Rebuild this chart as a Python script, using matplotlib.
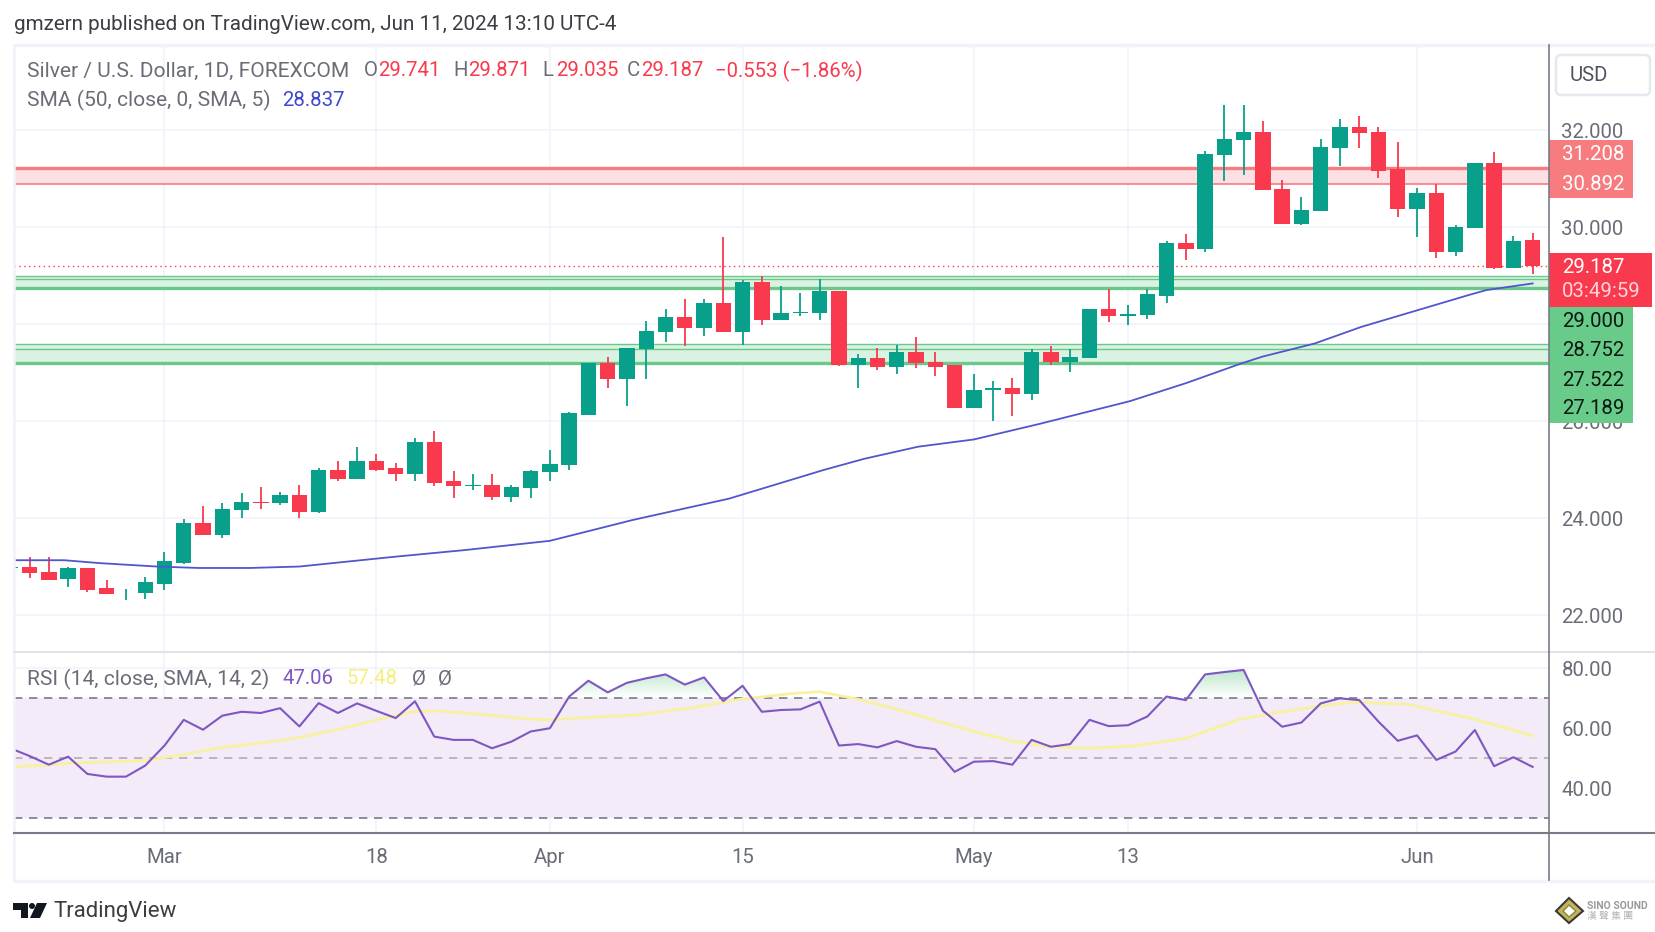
import matplotlib
matplotlib.use('Agg')
import matplotlib.pyplot as plt
from matplotlib.patches import Rectangle, Polygon, Circle, FancyBboxPatch
from matplotlib.path import Path
import numpy as np

W, H = 1656, 932
plt.rcParams['font.family'] = ['Roboto', 'Noto Sans CJK TC', 'DejaVu Sans']

GREEN = '#08a08a'
RED = '#f93a4e'
GRID = '#f0f3fa'
AXIS = '#787b86'
TXT = '#6a6d78'

# Daily candles, first one is the clipped stub on the left edge
opens = [22.98, 22.99, 22.89, 22.74, 22.96, 22.55, 22.45, 22.45, 22.65, 23.08, 23.90, 23.66, 24.16, 24.33, 24.30,
         24.47, 24.12, 25.00, 24.80, 25.18, 25.04, 24.91, 25.57, 24.76, 24.67, 24.69, 24.44, 24.62, 24.94, 25.09,
         26.12, 27.19, 26.87, 27.48, 27.84, 28.15, 27.91, 28.44, 27.84, 28.86, 28.08, 28.23, 28.22, 28.69, 27.15,
         27.29, 27.12, 27.43, 27.22, 27.15, 26.26, 26.65, 26.68, 26.55, 27.43, 27.22, 27.29, 28.32, 28.16, 28.19,
         28.58, 29.68, 29.55, 31.48, 31.80, 31.96, 30.79, 30.07, 30.34, 31.62, 32.07, 31.96, 31.19, 30.37, 30.71,
         29.48, 29.99, 31.33, 29.15, 29.741]
highs = [23.00, 23.19, 23.19, 22.99, 22.97, 22.72, 22.53, 22.79, 23.29, 23.97, 24.25, 24.32, 24.51, 24.65, 24.54,
         24.68, 25.04, 25.18, 25.47, 25.33, 25.14, 25.65, 25.79, 24.97, 24.90, 24.90, 24.68, 25.00, 25.40, 26.19,
         27.19, 27.33, 27.50, 28.07, 28.32, 28.51, 28.51, 29.79, 28.91, 28.99, 28.79, 28.65, 28.92, 28.69, 27.39,
         27.50, 27.57, 27.73, 27.43, 27.15, 26.97, 26.83, 26.89, 27.49, 27.55, 27.48, 28.32, 28.73, 28.39, 28.73,
         29.71, 29.85, 31.57, 32.51, 32.51, 32.18, 30.97, 30.61, 31.82, 32.22, 32.29, 32.07, 31.76, 30.80, 30.88,
         30.04, 31.33, 31.54, 29.82, 29.871]
lows = [22.97, 22.77, 22.72, 22.58, 22.48, 22.44, 22.30, 22.34, 22.52, 23.05, 23.66, 23.58, 24.01, 24.19, 24.26,
        24.01, 24.10, 24.76, 24.80, 24.97, 24.76, 24.76, 24.66, 24.41, 24.58, 24.37, 24.34, 24.41, 24.76, 24.99,
        26.12, 26.69, 26.30, 26.87, 27.62, 27.55, 27.76, 27.84, 27.57, 27.98, 28.08, 28.16, 28.08, 27.13, 26.69,
        27.05, 26.97, 27.09, 26.93, 26.26, 26.26, 26.01, 26.11, 26.43, 27.15, 27.01, 27.29, 28.05, 27.98, 28.10,
        28.44, 29.33, 29.48, 30.95, 31.08, 30.76, 30.07, 30.05, 30.34, 31.26, 31.62, 31.01, 30.20, 29.80, 29.37,
        29.41, 29.99, 29.13, 29.15, 29.035]
closes = [23.00, 22.86, 22.72, 22.96, 22.52, 22.44, 22.46, 22.68, 23.11, 23.90, 23.66, 24.19, 24.33, 24.31, 24.47,
          24.12, 25.00, 24.80, 25.18, 25.00, 24.90, 25.57, 24.73, 24.66, 24.69, 24.44, 24.65, 24.97, 25.11, 26.16,
          27.19, 26.87, 27.50, 27.86, 28.15, 27.91, 28.44, 27.84, 28.86, 28.08, 28.22, 28.25, 28.69, 27.15, 27.29,
          27.12, 27.43, 27.19, 27.12, 26.26, 26.64, 26.68, 26.55, 27.43, 27.22, 27.33, 28.32, 28.16, 28.21, 28.61,
          29.68, 29.55, 31.50, 31.82, 31.96, 30.76, 30.07, 30.36, 31.64, 32.07, 31.94, 31.16, 30.37, 30.71, 29.48,
          30.00, 31.33, 29.15, 29.72, 29.187]
days = np.arange(len(opens)) - 1

# SMA 50
sma_days = [-0.83, 1.8, 3.65, 6.6, 8.8, 11.4, 14, 18.9, 22.6, 27, 31.3, 36.3, 41.2, 43.3, 46.1, 49, 52.4, 55.5,
            57.1, 60, 62.9, 64, 66.7, 69.1, 71.9, 74.7, 75.6, 78]
sma_vals = [23.13, 23.13, 23.07, 23.0, 22.97, 22.97, 23.0, 23.2, 23.34, 23.53, 23.96, 24.40, 24.99, 25.22, 25.47,
            25.62, 25.94, 26.25, 26.41, 26.78, 27.19, 27.33, 27.6, 27.94, 28.27, 28.6, 28.7, 28.837]

rsi = [53.3, 50.7, 47.8, 50.5, 44.7, 43.8, 43.8, 47.5, 54.2, 62.8, 59.5, 64.2, 65.5, 65.1, 66.7, 60.6, 68.4, 65.1,
       68.3, 65.8, 63.4, 69.0, 57.2, 56.1, 56.1, 53.3, 55.5, 58.9, 60.0, 70.6, 75.9, 72.0, 75.2, 76.7, 78.0, 74.6,
       77.0, 69.1, 74.2, 65.5, 66.1, 66.3, 68.9, 54.2, 54.7, 53.6, 55.7, 53.8, 53.0, 45.4, 48.8, 49.0, 47.8, 56.1,
       53.8, 54.7, 62.8, 60.7, 61.0, 63.9, 70.6, 69.4, 78.0, 78.8, 79.5, 65.9, 60.5, 61.9, 68.3, 70.0, 69.4, 62.2,
       55.8, 57.6, 49.4, 52.2, 59.4, 47.3, 50.3, 47.06]

rsi_ma_days = [-0.85, 1, 2, 4, 6, 8.1, 10, 12.2, 14.1, 16.3, 18, 19.9, 21, 23.2, 25.9, 27, 28.7, 31.4, 34.2, 36.9,
               39.7, 41, 43, 45.5, 48.7, 51, 52.9, 55, 57.3, 60, 62.8, 64.7, 67.4, 68.8, 71.5, 74.8, 78]
rsi_ma_vals = [47.1, 47.7, 48.3, 48.7, 49.2, 51.3, 53.6, 55.2, 57.0, 60.0, 62.8, 65.5, 65.8, 64.8, 63.1, 62.8, 63.5,
               64.4, 66.7, 69.7, 71.7, 72.2, 69.7, 65.5, 59.4, 55.7, 53.8, 53.3, 54.1, 56.6, 63.0, 65.2, 67.8, 68.7,
               68.0, 63.3, 57.48]

# horizontal zones (top, middle, bottom)
red_zone = [31.208, 30.892]
green_zones = [[29.0, 28.92, 28.752], [27.58, 27.48, 27.189]]
last_price = 29.187

price_ticks = [22, 24, 26, 28, 30, 32]
rsi_ticks = [40, 60, 80]
date_days = [7, 18, 27, 37, 49, 57, 72]
date_labels = ['Mar', '18', 'Apr', '15', 'May', '13', 'Jun']


def px_axes(left, top, right, bottom):
    return fig.add_axes([left / W, 1 - bottom / H, (right - left) / W, (bottom - top) / H])


fig = plt.figure(figsize=(W / 100, H / 100), dpi=100, facecolor='white')

L, R = 13.7, 1549
ax = px_axes(L, 45, R, 651.7)
ax2 = px_axes(L, 651.7, R, 833)
xlim = ((L - 29.6) / 19.27, (R - 29.6) / 19.27)

# price pane
ax.set_xlim(xlim)
ax.set_ylim(21.244, 33.753)
ax.axhspan(red_zone[1], red_zone[0], color='#fde0e3', lw=0, zorder=1)
ax.axhline(red_zone[0], color='#f77c80', lw=2.4, zorder=2)
ax.axhline(red_zone[1], color='#f77c80', lw=1.2, zorder=2)
for z in green_zones:
    ax.axhspan(z[2], z[0], color='#d9f2e1', lw=0, zorder=1)
    ax.axhline(z[0], color='#6cc78a', lw=1, zorder=2)
    ax.axhline(z[1], color='#6cc78a', lw=1, zorder=2)
    ax.axhline(z[2], color='#6cc78a', lw=2.4, zorder=2)
ax.axhline(last_price, color=RED, lw=1, ls=(0, (1, 2.5)), zorder=2)

colors = [GREEN if c >= o else RED for o, c in zip(opens, closes)]
ax.vlines(days, lows, highs, colors=colors, lw=1.3, zorder=4)
ax.bar(days, np.abs(np.array(closes) - np.array(opens)), bottom=np.minimum(opens, closes), width=0.8,
       color=colors, lw=0, zorder=4)
ax.plot(sma_days, sma_vals, color='#5056cc', lw=1.3, zorder=5)

ax.set_yticks(price_ticks)
# 28.000 sits fully behind the green price tags in the original, so no label for it
ax.set_yticklabels(['' if t == 28 else '%.3f' % t for t in price_ticks])

# rsi pane
ax2.set_xlim(xlim)
ax2.set_ylim(24.95, 85.6)
ax2.axhspan(30, 70, color='#f3ebf8', lw=0, zorder=1)
ax2.axhline(70, color=AXIS, lw=1.2, ls=(0, (5, 4)), zorder=2)
ax2.axhline(50, color=AXIS, lw=1.2, ls=(0, (5, 4)), alpha=0.55, zorder=2)
ax2.axhline(30, color=AXIS, lw=1.2, ls=(0, (5, 4)), zorder=2)

# overbought gradient, green at the top fading to white at 70
grad = np.zeros((100, 2, 4))
grad[..., :3] = matplotlib.colors.to_rgb('#8fd3a5')
grad[..., 3] = np.linspace(0.6, 0, 100)[:, None]
fill = ax2.fill_between(days, 70, rsi, where=np.array(rsi) > 70, interpolate=True, color='none', lw=0)
img = ax2.imshow(grad, extent=(xlim[0], xlim[1], 70, 80), aspect='auto', zorder=1.5, origin='upper')
img.set_clip_path(Path.make_compound_path(*fill.get_paths()), transform=ax2.transData)
ax2.set_xlim(xlim)
ax2.set_ylim(24.95, 85.6)

ax2.plot(rsi_ma_days, rsi_ma_vals, color='#f7f1a0', lw=2, zorder=3)
ax2.plot(days, rsi, color='#7e57c2', lw=1.5, zorder=4)

ax2.set_yticks(rsi_ticks)
ax2.set_yticklabels(['%.2f' % t for t in rsi_ticks])
ax2.set_xticks(date_days)
ax2.set_xticklabels(date_labels)

for a in (ax, ax2):
    a.yaxis.tick_right()
    a.set_axisbelow(True)
    a.set_xticks(date_days)
    a.grid(True, color=GRID, lw=1.2)
    a.tick_params(axis='y', length=0, pad=9, labelsize=14.7, labelcolor=TXT)
    for lab in a.get_yticklabels():
        lab.set_y(lab.get_position()[1])
    for s in a.spines.values():
        s.set_visible(False)
ax.tick_params(axis='x', length=0, labelbottom=False)
ax2.tick_params(axis='x', length=0, pad=11, labelsize=14.7, labelcolor=TXT)

# overlay in pixels for the frame, price tags and header texts
ov = fig.add_axes([0, 0, 1, 1], zorder=10)
ov.set_xlim(0, W)
ov.set_ylim(H, 0)
ov.axis('off')
ov.patch.set_alpha(0)

ov.plot([L, L], [45, 881], color=GRID, lw=1.8)
ov.plot([L, R], [45, 45], color=GRID, lw=2.5)
ov.plot([R, W], [45, 45], color=GRID, lw=2.5)
ov.plot([L, W], [881, 881], color=GRID, lw=2.5)
ov.plot([L, W], [651.7, 651.7], color='#e0e3eb', lw=1.5)
ov.plot([L, W], [833, 833], color=AXIS, lw=1.5)
ov.plot([R, R], [45, 880], color=AXIS, lw=1.2)

ov.add_patch(FancyBboxPatch((1556, 55), 94, 40, boxstyle='round,pad=0,rounding_size=5', fc='white',
                            ec='#e6e8ef', lw=1.8))
ov.text(1589, 75.5, 'USD', color='#50535e', fontsize=14.7, ha='center', va='center')

ov.add_patch(Rectangle((R, 140), 84, 58, color='#f77c80', lw=0))
ov.add_patch(Rectangle((R, 307), 84, 116, color='#69cb8a', lw=0))
ov.add_patch(Rectangle((R, 253), 103, 54, color=RED, lw=0))
for y, s in [(155, '31.208'), (184.3, '30.892')]:
    ov.text(1562, y, s, color='white', fontsize=14.7, va='center')
for y, s in [(321.7, '29.000'), (350.7, '28.752'), (380, '27.522'), (409, '27.189')]:
    ov.text(1562, y, s, color='#0b1a10', fontsize=14.7, va='center')
ov.text(1562, 267.5, '29.187', color='white', fontsize=14.7, va='center')
ov.text(1562, 291.7, '03:49:59', color='#ffd5d8', fontsize=14.7, va='center')

# header
ov.text(14, 24.5, 'gmzern published on TradingView.com, Jun 11, 2024 13:10 UTC-4', color='#3c3c43', fontsize=14.9, va='center')
ov.text(27, 71, 'Silver / U.S. Dollar, 1D, FOREXCOM', color=TXT, fontsize=15.1, va='center')
for x, s in [(364, 'O'), (453, 'H'), (542, 'L'), (627, 'C')]:
    ov.text(x, 71, s, color=TXT, fontsize=14.7, va='center')
for x, s in [(378, '29.741'), (468, '29.871'), (556, '29.035'), (641, '29.187'), (715, '−0.553 (−1.86%)')]:
    ov.text(x, 71, s, color=RED, fontsize=14.7, va='center')
ov.text(27, 100.5, 'SMA (50, close, 0, SMA, 5)', color=TXT, fontsize=15.1, va='center')
ov.text(282, 100.5, '28.837', color='#4048d0', fontsize=14.7, va='center')
ov.text(27, 679, 'RSI (14, close, SMA, 14, 2)', color=TXT, fontsize=15.1, va='center')
ov.text(283, 679, '47.06', color='#7e57c2', fontsize=14.7, va='center')
ov.text(347, 679, '57.48', color='#f5ef7a', fontsize=14.7, va='center')
ov.text(412, 679, 'Ø', color=TXT, fontsize=14.7, va='center')
ov.text(438, 679, 'Ø', color=TXT, fontsize=14.7, va='center')

# TradingView logo
logo = '#131722'
ov.add_patch(Polygon([(13, 903), (28, 903), (28, 918), (21, 918), (21, 910), (13, 910)], color=logo, lw=0))
ov.add_patch(Circle((32, 906), 3, color=logo, lw=0))
ov.add_patch(Polygon([(37, 903), (47, 903), (40, 918), (30, 918)], color=logo, lw=0))
ov.text(53, 911.5, 'TradingView', color='#3c3c43', fontsize=16, va='center')

# watermark
ov.add_patch(Polygon([(1569, 898), (1583, 911), (1569, 923), (1556, 911)], fc='#c9b35a', ec='#3a3a3a', lw=1.5))
ov.add_patch(Polygon([(1569, 905), (1576, 911), (1569, 917), (1563, 911)], fc='white', ec='#7f8c3a', lw=1))
ov.text(1587, 905.7, 'SINO SOUND', color='#9a9a9a', fontsize=7.5, fontweight='bold', va='center')
ov.text(1587, 916, '漢 聲 集 團', color='#b5b5b5', fontsize=7, va='center')

fig.savefig('out.png', dpi=100, facecolor='white')
